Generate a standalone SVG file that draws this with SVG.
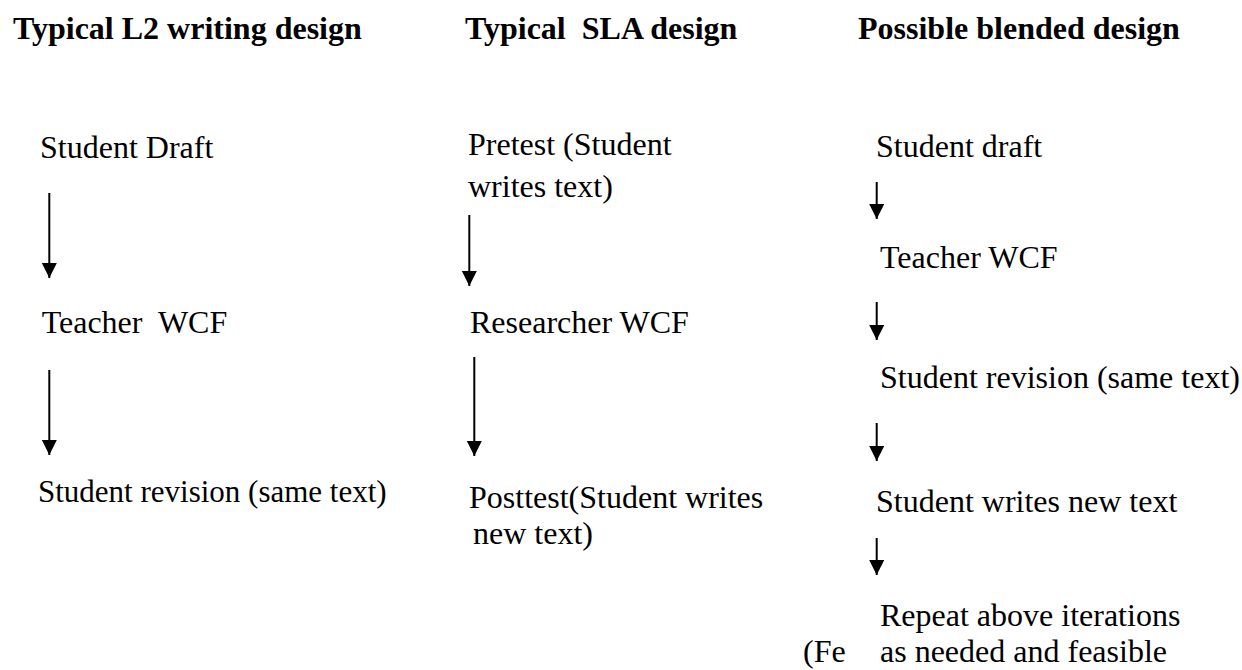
<svg xmlns="http://www.w3.org/2000/svg" width="1242" height="670" viewBox="0 0 1242 670">
<defs>
<marker id="ah" markerUnits="userSpaceOnUse" markerWidth="16" markerHeight="16" refX="15" refY="7.5" orient="auto">
<path d="M0,0 L15,7.5 L0,15 Z" fill="#000"/>
</marker>
<style>
.t{font-family:"Liberation Serif","Times New Roman",serif;font-size:32px;fill:#000}
.h{font-family:"Liberation Serif","Times New Roman",serif;font-size:32px;font-weight:bold;fill:#000}
.c{stroke:#000;stroke-width:2;fill:none;marker-end:url(#ah)}
</style>
</defs>
<rect width="1242" height="670" fill="#fff"/>
<g id="titles">
<text class="h" x="13" y="39">Typical L2 writing design</text>
<text class="h" x="465" y="39" xml:space="preserve">Typical  SLA design</text>
<text class="h" x="858" y="39">Possible blended design</text>
</g>
<g id="n-l1"><text class="t" x="40" y="158">Student Draft</text></g>
<g id="n-l2"><text class="t" x="41.7" y="333" xml:space="preserve">Teacher  WCF</text></g>
<g id="n-l3"><text class="t" x="38" y="502" style="font-size:31px">Student revision (same text)</text></g>
<g id="n-m1"><text class="t" x="468" y="155">Pretest (Student</text><text class="t" x="468" y="197">writes text)</text></g>
<g id="n-m2"><text class="t" x="470" y="333">Researcher WCF</text></g>
<g id="n-m3"><text class="t" x="469" y="508">Posttest(Student writes</text><text class="t" x="473" y="544">new text)</text></g>
<g id="n-r1"><text class="t" x="876" y="157">Student draft</text></g>
<g id="n-r2"><text class="t" x="880" y="268">Teacher WCF</text></g>
<g id="n-r3"><text class="t" x="880" y="388">Student revision (same text)</text></g>
<g id="n-r4"><text class="t" x="876" y="512">Student writes new text</text></g>
<g id="n-r5"><text class="t" x="880" y="626">Repeat above iterations</text><text class="t" x="880" y="662">as needed and feasible</text><text class="t" x="803" y="662">(Fe</text></g>
<g id="connectors">
<line class="c" x1="49.3" y1="193" x2="49.3" y2="278"/>
<line class="c" x1="49.3" y1="370" x2="49.3" y2="455"/>
<line class="c" x1="469.3" y1="215" x2="469.3" y2="286"/>
<line class="c" x1="474.3" y1="357" x2="474.3" y2="456"/>
<line class="c" x1="876.7" y1="182" x2="876.7" y2="219"/>
<line class="c" x1="876.7" y1="302" x2="876.7" y2="340"/>
<line class="c" x1="876.7" y1="423" x2="876.7" y2="461"/>
<line class="c" x1="876.7" y1="538" x2="876.7" y2="575"/>
</g>
</svg>
